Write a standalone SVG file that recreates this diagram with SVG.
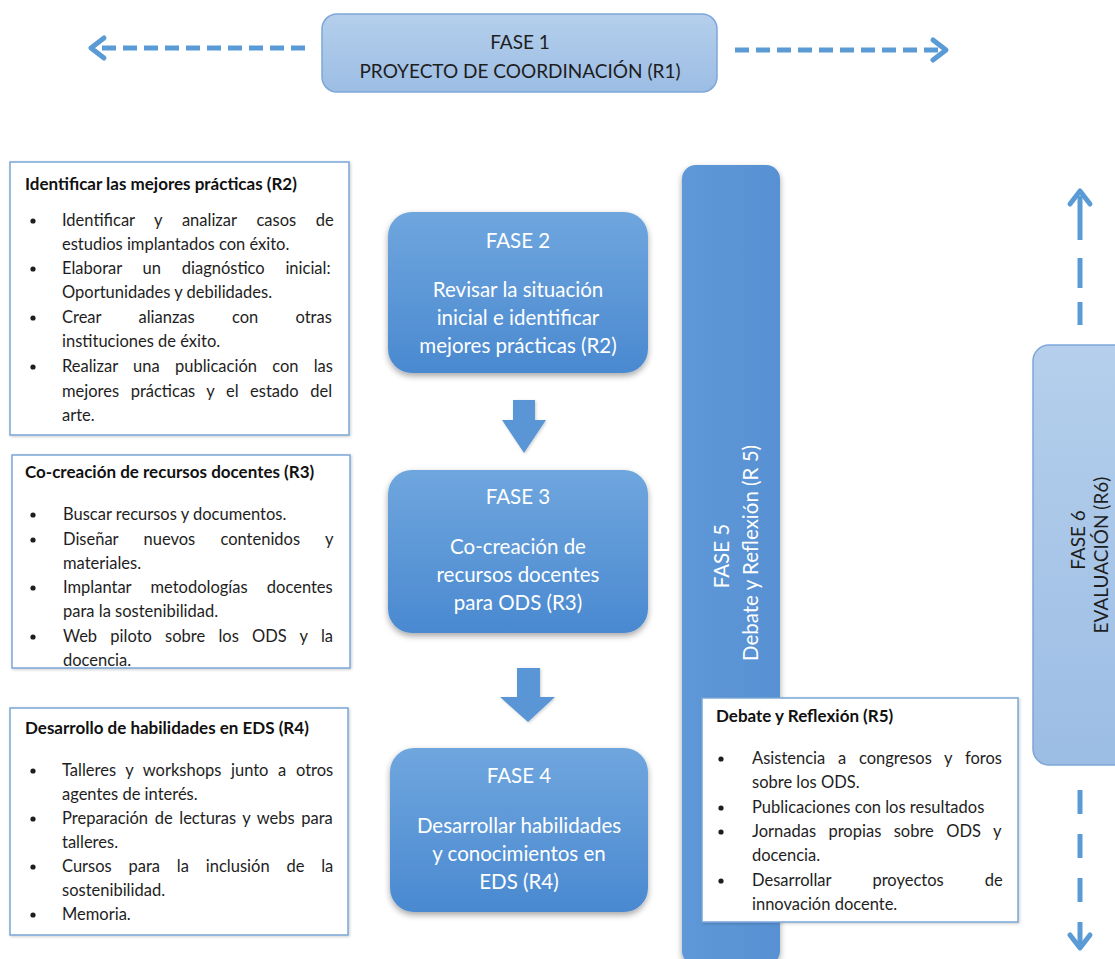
<svg xmlns="http://www.w3.org/2000/svg" width="1115" height="959" viewBox="0 0 1115 959">
<style>
.body{font-family:Lato,"Liberation Sans",sans-serif;font-size:16.5px;fill:#1e1e1e}
.ttl{font-family:Lato,"Liberation Sans",sans-serif;font-size:17px;font-weight:bold;fill:#111}
.wt{font-family:Lato,"Liberation Sans",sans-serif;font-size:20.5px;fill:#fff;text-anchor:middle}
.dk{font-family:Lato,"Liberation Sans",sans-serif;font-size:19px;fill:#1e1e1e;text-anchor:middle}
.box{fill:#fff;stroke:#7aa6d8;stroke-width:1.5}
.dash{fill:none;stroke:#5b9bd5;stroke-width:5}
.chev{fill:none;stroke:#5b9bd5;stroke-width:5;stroke-linecap:round;stroke-linejoin:round}
.bul{fill:#1e1e1e}
</style>
<defs>
<linearGradient id="gBlue" x1="0" y1="0" x2="0" y2="1">
<stop offset="0" stop-color="#6fa6de"/><stop offset="1" stop-color="#4a89d0"/>
</linearGradient>
<linearGradient id="gBar" x1="0" y1="0" x2="1" y2="0">
<stop offset="0" stop-color="#5e98d8"/><stop offset="1" stop-color="#5891d3"/>
</linearGradient>
<linearGradient id="gLight" x1="0" y1="0" x2="0" y2="1">
<stop offset="0" stop-color="#b5cfec"/><stop offset="1" stop-color="#9cbde4"/>
</linearGradient>
<filter id="sh" x="-10%" y="-10%" width="120%" height="125%">
<feDropShadow dx="0" dy="3" stdDeviation="3" flood-color="#000" flood-opacity="0.35"/>
</filter>
<filter id="sh2" x="-5%" y="-5%" width="110%" height="110%">
<feDropShadow dx="1" dy="1" stdDeviation="1.5" flood-color="#000" flood-opacity="0.2"/>
</filter>
</defs>

<g id="connectors">
<line class="dash" x1="305" y1="48" x2="100" y2="48" stroke-dasharray="14 7"/>
<polyline class="chev" points="104,38 91,48 104,58"/>
<line class="dash" x1="735" y1="50" x2="940" y2="50" stroke-dasharray="14 7"/>
<polyline class="chev" points="933,40 946,50 933,60"/>
<line class="dash" x1="1080" y1="196" x2="1080" y2="240"/>
<line class="dash" x1="1080" y1="258" x2="1080" y2="288"/>
<line class="dash" x1="1080" y1="302" x2="1080" y2="325"/>
<polyline class="chev" points="1070,204 1080,191 1090,204"/>
<line class="dash" x1="1080" y1="790" x2="1080" y2="945" stroke-dasharray="24 20"/>
<polyline class="chev" points="1070,935 1080,948 1090,935"/>
<path d="M513,400 H535 V420 H546 L524,453 L502,420 H513 Z" fill="#5a96d6" filter="url(#sh2)"/>
<path d="M517,668 H540 V697 H555 L528,722 L500,697 H517 Z" fill="#5a96d6" filter="url(#sh2)"/>
</g>

<g id="fase1">
<rect x="322" y="14" width="395" height="78" rx="15" fill="url(#gLight)" stroke="#7ea6d8" stroke-width="1.5"/>
<text class="dk" x="520" y="49">FASE 1</text>
<text class="dk" x="520" y="78">PROYECTO DE COORDINACIÓN (R1)</text>
</g>

<g id="fase5">
<rect x="682" y="165" width="98" height="800" rx="14" fill="url(#gBar)" filter="url(#sh)"/>
<text class="wt" transform="translate(729,556) rotate(-90)">FASE 5</text>
<text class="wt" transform="translate(758,553) rotate(-90)">Debate y Reflexión (R 5)</text>
</g>

<g id="fase6">
<rect x="1033" y="345" width="100" height="420" rx="16" fill="url(#gLight)" stroke="#7ea6d8" stroke-width="1.5"/>
<text class="dk" transform="translate(1085,540) rotate(-90)">FASE 6</text>
<text class="dk" transform="translate(1108,555) rotate(-90)">EVALUACIÓN (R6)</text>
</g>

<g id="fase2">
<rect x="388" y="212" width="260" height="161" rx="24" fill="url(#gBlue)" filter="url(#sh)"/>
<text class="wt" x="518" y="248">FASE 2</text>
<text class="wt" x="518" y="297">Revisar la situación</text>
<text class="wt" x="518" y="325">inicial e identificar</text>
<text class="wt" x="518" y="353">mejores prácticas (R2)</text>
</g>

<g id="fase3">
<rect x="388" y="470" width="260" height="163" rx="24" fill="url(#gBlue)" filter="url(#sh)"/>
<text class="wt" x="518" y="504">FASE 3</text>
<text class="wt" x="518" y="554">Co-creación de</text>
<text class="wt" x="518" y="582">recursos docentes</text>
<text class="wt" x="518" y="610">para ODS (R3)</text>
</g>

<g id="fase4">
<rect x="390" y="748" width="258" height="164" rx="24" fill="url(#gBlue)" filter="url(#sh)"/>
<text class="wt" x="519" y="783">FASE 4</text>
<text class="wt" x="519" y="833">Desarrollar habilidades</text>
<text class="wt" x="519" y="861">y conocimientos en</text>
<text class="wt" x="519" y="889">EDS (R4)</text>
</g>

<g id="r2box">
<rect class="box" x="10" y="162" width="339" height="273" filter="url(#sh2)"/>
<text class="ttl" x="25" y="190">Identificar las mejores prácticas (R2)</text>
<circle class="bul" cx="33" cy="221" r="2.6"/>
<circle class="bul" cx="33" cy="269" r="2.6"/>
<circle class="bul" cx="33" cy="318" r="2.6"/>
<circle class="bul" cx="33" cy="367" r="2.6"/>
<text class="body" x="62" y="226" word-spacing="15.5">Identificar y analizar casos de</text>
<text class="body" x="62" y="250">estudios implantados con éxito.</text>
<text class="body" x="62" y="274" word-spacing="16.5">Elaborar un diagnóstico inicial:</text>
<text class="body" x="62" y="298">Oportunidades y debilidades.</text>
<text class="body" x="62" y="323" word-spacing="33">Crear alianzas con otras</text>
<text class="body" x="62" y="347">instituciones de éxito.</text>
<text class="body" x="62" y="372" word-spacing="11">Realizar una publicación con las</text>
<text class="body" x="62" y="397" word-spacing="7.3">mejores prácticas y el estado del</text>
<text class="body" x="62" y="421">arte.</text>
</g>

<g id="r3box">
<rect class="box" x="12" y="455" width="338" height="213" filter="url(#sh2)"/>
<text class="ttl" x="25" y="478">Co-creación de recursos docentes (R3)</text>
<circle class="bul" cx="33" cy="515" r="2.6"/>
<circle class="bul" cx="33" cy="540" r="2.6"/>
<circle class="bul" cx="33" cy="588" r="2.6"/>
<circle class="bul" cx="33" cy="637" r="2.6"/>
<text class="body" x="63" y="520">Buscar recursos y documentos.</text>
<text class="body" x="63" y="545" word-spacing="21">Diseñar nuevos contenidos y</text>
<text class="body" x="63" y="569">materiales.</text>
<text class="body" x="63" y="593" word-spacing="15">Implantar metodologías docentes</text>
<text class="body" x="63" y="617">para la sostenibilidad.</text>
<text class="body" x="63" y="642" word-spacing="9">Web piloto sobre los ODS y la</text>
<text class="body" x="63" y="666">docencia.</text>
</g>

<g id="r4box">
<rect class="box" x="10" y="708" width="338" height="227" filter="url(#sh2)"/>
<text class="ttl" x="25" y="734">Desarrollo de habilidades en EDS (R4)</text>
<circle class="bul" cx="33" cy="771" r="2.6"/>
<circle class="bul" cx="33" cy="819" r="2.6"/>
<circle class="bul" cx="33" cy="867" r="2.6"/>
<circle class="bul" cx="33" cy="915" r="2.6"/>
<text class="body" x="62" y="776" word-spacing="5.4">Talleres y workshops junto a otros</text>
<text class="body" x="62" y="800">agentes de interés.</text>
<text class="body" x="62" y="824" word-spacing="2.4">Preparación de lecturas y webs para</text>
<text class="body" x="62" y="848">talleres.</text>
<text class="body" x="62" y="872" word-spacing="12.6">Cursos para la inclusión de la</text>
<text class="body" x="62" y="896">sostenibilidad.</text>
<text class="body" x="62" y="920">Memoria.</text>
</g>

<g id="r5box">
<rect class="box" x="702" y="698" width="316" height="224" filter="url(#sh2)"/>
<text class="ttl" x="716" y="722">Debate y Reflexión (R5)</text>
<circle class="bul" cx="721" cy="759" r="2.6"/>
<circle class="bul" cx="721" cy="808" r="2.6"/>
<circle class="bul" cx="721" cy="832" r="2.6"/>
<circle class="bul" cx="721" cy="881" r="2.6"/>
<text class="body" x="752" y="764" word-spacing="8.5">Asistencia a congresos y foros</text>
<text class="body" x="752" y="788">sobre los ODS.</text>
<text class="body" x="752" y="813">Publicaciones con los resultados</text>
<text class="body" x="752" y="837" word-spacing="8.2">Jornadas propias sobre ODS y</text>
<text class="body" x="752" y="861">docencia.</text>
<text class="body" x="752" y="886" word-spacing="37">Desarrollar proyectos de</text>
<text class="body" x="752" y="910">innovación docente.</text>
</g>
</svg>
